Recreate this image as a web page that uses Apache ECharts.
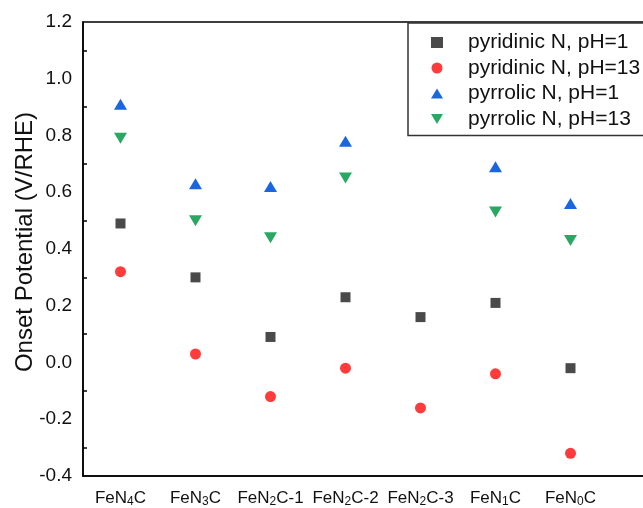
<!DOCTYPE html>
<html>
<head>
<meta charset="utf-8">
<script src="https://cdn.jsdelivr.net/npm/echarts@6/dist/echarts.min.js"></script>
<style>
  html, body { margin: 0; padding: 0; background: #fff; }
  #chart { width: 643px; height: 508px; }
</style>
</head>
<body>
<div id="chart"></div>
<script>
// categories (last one is an empty pad so the frame runs past the right edge)
const categories = ['FeN{s|4}C', 'FeN{s|3}C', 'FeN{s|2}C-1', 'FeN{s|2}C-2', 'FeN{s|2}C-3', 'FeN{s|1}C', 'FeN{s|0}C', ''];

const pyridinicPH1 = [0.49, 0.30, 0.09, 0.23, 0.16, 0.21, -0.02];
const pyridinicPH13 = [0.32, 0.03, -0.12, -0.02, -0.16, -0.04, -0.32];
const pyrrolicPH1 = [0.91, 0.63, 0.62, 0.78, null, 0.69, 0.56];
const pyrrolicPH13 = [0.79, 0.50, 0.44, 0.65, null, 0.53, 0.43];

const seriesNames = ['pyridinic N, pH=1', 'pyridinic N, pH=13', 'pyrrolic N, pH=1', 'pyrrolic N, pH=13'];

const FONT = 'Liberation Sans, Arial, sans-serif';
const DOWN_TRI = 'path://M0,0L12,0L6,10Z';
const UP_TRI = 'path://M6,0L12,10L0,10Z';

const chart = echarts.init(document.getElementById('chart'));

// 散点系列
function makeSeries(name, data, symbol, size, color) {
  return {
    name: name,
    type: 'scatter',
    data: data,
    symbol: symbol,
    symbolSize: size,
    itemStyle: { color: color, opacity: 1 },
    emphasis: { disabled: true }
  };
}

chart.setOption({
  animation: false,
  backgroundColor: '#fff',
  grid: {
    left: 83, top: 22, width: 600, bottom: 32,
    outerBoundsMode: 'none',
    containLabel: false,
    show: true, borderColor: '#000', borderWidth: 1.5
  },
  legend: {
    left: 408, top: 23,
    orient: 'vertical',
    data: [
      { name: seriesNames[0], icon: 'rect' },
      { name: seriesNames[1], icon: 'circle' },
      { name: seriesNames[2], icon: UP_TRI },
      { name: seriesNames[3], icon: DOWN_TRI }
    ],
    backgroundColor: '#fff',
    borderColor: '#333',
    borderWidth: 1.5,
    padding: [9, 10, 6, 23],
    itemWidth: 12,
    itemHeight: 11,
    itemGap: 4.5,
    textStyle: { fontFamily: FONT, fontSize: 21, color: '#111', padding: [0, 0, 0, 20] }
  },
  xAxis: {
    type: 'category',
    data: categories,
    boundaryGap: true,
    axisLine: { onZero: false, lineStyle: { color: '#000', width: 1.5 } },
    axisTick: { inside: true, alignWithLabel: true, length: 7, lineStyle: { color: '#000', width: 1.5 },
      interval: function (i) { return i < 7; } },
    axisLabel: {
      margin: 12,
      interval: 0,
      fontFamily: FONT,
      fontSize: 17,
      color: '#111',
      rich: {
        s: { fontSize: 12, fontFamily: FONT, color: '#111', verticalAlign: 'bottom', padding: [8, 0, 0, 0] }
      }
    },
    splitLine: { show: false }
  },
  yAxis: {
    type: 'value',
    min: -0.4,
    max: 1.2,
    interval: 0.2,
    name: 'Onset Potential (V/RHE)',
    nameLocation: 'middle',
    nameGap: 46,
    nameMoveOverlap: false,
    nameTextStyle: { fontFamily: FONT, fontSize: 24, color: '#111', padding: [0, 0, 0, 14] },
    axisLine: { show: true, lineStyle: { color: '#000', width: 1.5 } },
    axisTick: { inside: true, length: 7, lineStyle: { color: '#000', width: 1.5 } },
    minorTick: { show: true, splitNumber: 2, length: 4, lineStyle: { color: '#000', width: 1.5 } },
    axisLabel: {
      margin: 11,
      fontFamily: FONT,
      fontSize: 19,
      color: '#111',
      formatter: function (v) { return v.toFixed(1); }
    },
    splitLine: { show: false }
  },
  series: [
    makeSeries(seriesNames[0], pyridinicPH1, 'rect', 10, '#4a4a4a'),
    makeSeries(seriesNames[1], pyridinicPH13, 'circle', 11, '#ff3b3b'),
    makeSeries(seriesNames[2], pyrrolicPH1, UP_TRI, [13, 11], '#1a66e0'),
    makeSeries(seriesNames[3], pyrrolicPH13, DOWN_TRI, [13, 11], '#2aa863')
  ]
});
</script>
</body>
</html>
